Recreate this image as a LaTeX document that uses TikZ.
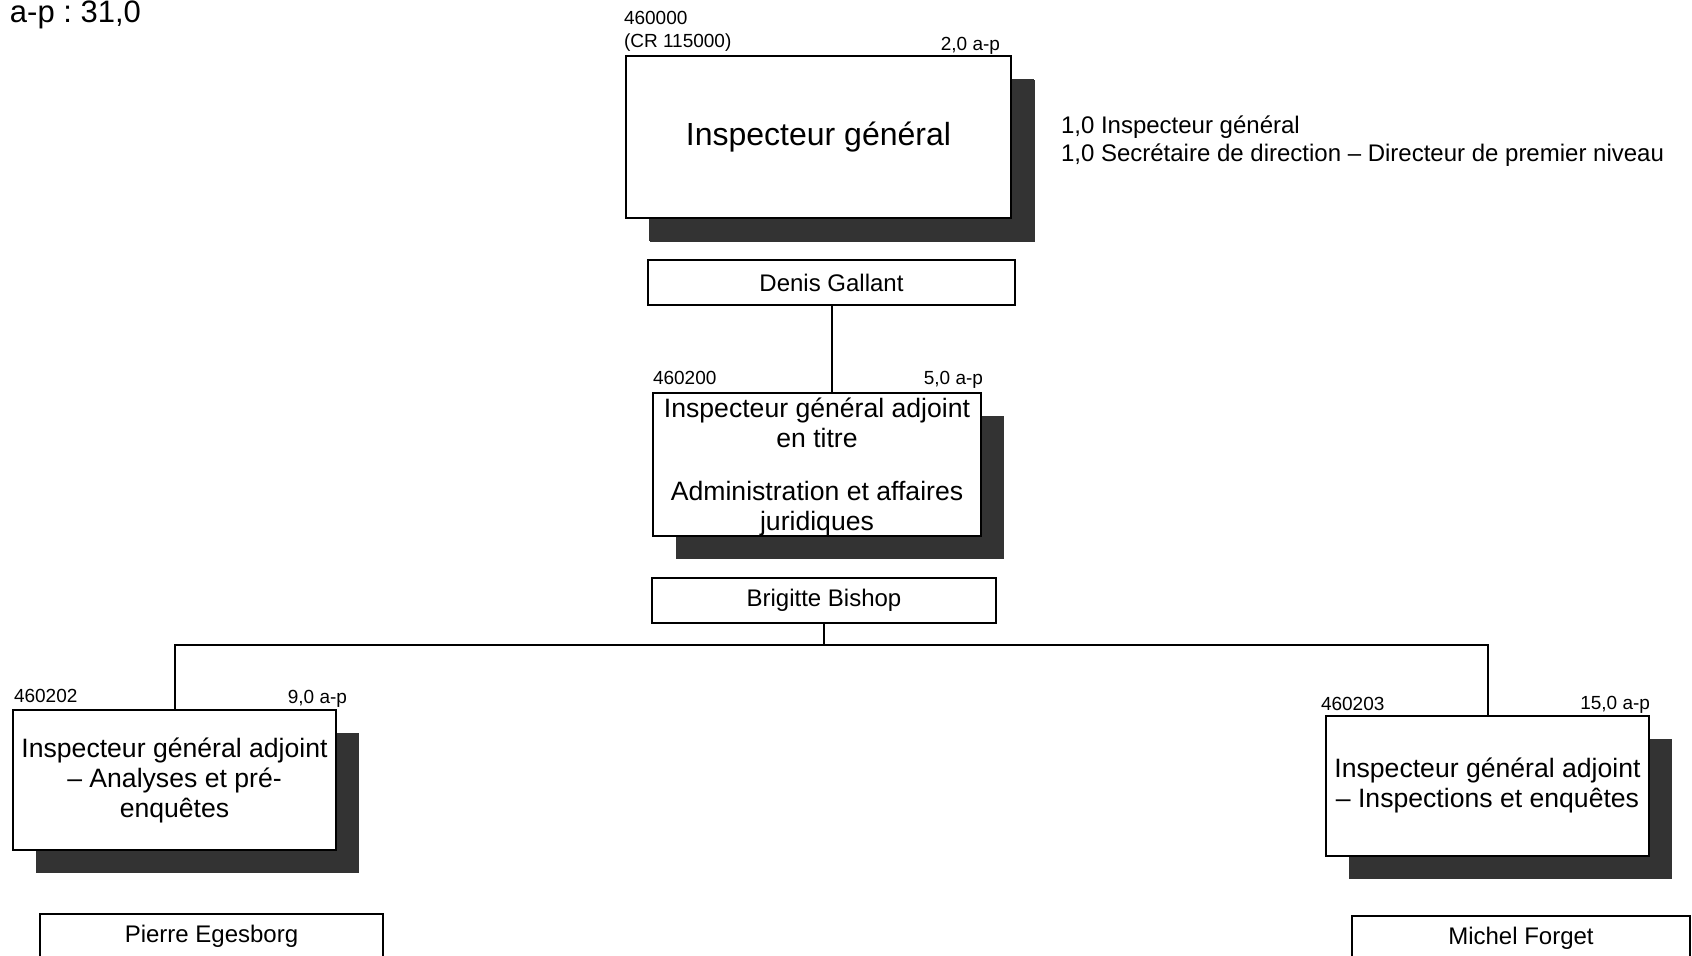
\documentclass[tikz,border=0pt]{standalone}
\usepackage{fontspec}
\setmainfont{Liberation Sans}
\usetikzlibrary{shadows}
\definecolor{shadowgray}{HTML}{333333}
\frenchspacing

\begin{document}
\begin{tikzpicture}[
	x=0.5pt, y=-0.5pt,
	line width=1pt,
	posbox/.style={
		draw, fill=white,
		align=center,
		inner sep=0pt,
		font=\fontsize{13.3}{15}\selectfont,
		drop shadow={shadow xshift=11.5pt, shadow yshift=-11.5pt, fill=shadowgray, opacity=1},
	},
	boxtext/.style={
		align=center,
		inner sep=0pt,
		font=\fontsize{13.3}{15}\selectfont,
	},
	namebox/.style={
		draw, fill=white,
		inner sep=0pt,
		minimum height=22.5pt,
		font=\fontsize{12}{14}\selectfont,
	},
	unitlabel/.style={
		align=left,
		inner sep=0pt,
		font=\fontsize{9.5}{11.5}\selectfont,
	}
]
\useasboundingbox (0,0) rectangle (1692,956);

\node[anchor=base west, inner sep=0pt, font=\fontsize{15.5}{18}\selectfont] (total) at (9,23) {a-p : 31,0};

% boxes
\node[posbox, minimum width=192.5pt, minimum height=81pt, font=\fontsize{16}{19}\selectfont,
	drop shadow={shadow xshift=12pt, shadow yshift=-12pt, fill=shadowgray, opacity=1}] (ig) at (818.5,137) {Inspecteur général};
\node[namebox, minimum width=183.5pt] (dg) at (831.5,282.5) {Denis Gallant};
\node[posbox, minimum width=164pt, minimum height=71.5pt,
	label={[boxtext, yshift=-1pt]center:{Inspecteur général adjoint\\en titre\\[11.5pt]Administration et affaires\\juridiques}}] (iga) at (817,464.5) {};
\node[namebox, minimum width=172pt] (bb) at (824,600.5) {Brigitte Bishop};
\node[posbox, minimum width=161.5pt, minimum height=70pt] (igaa) at (174.5,780) {Inspecteur général adjoint\\– Analyses et pré-\\enquêtes};
\node[posbox, minimum width=161.5pt, minimum height=70pt] (igai) at (1487.5,785.5) {Inspecteur général adjoint\\– Inspections et enquêtes};
\node[namebox, minimum width=171.5pt] (pe) at (211.5,936.5) {Pierre Egesborg};
\node[namebox, minimum width=169pt] (mf) at (1521,938.5) {Michel Forget};

% codes and a-p
\node[unitlabel, anchor=base west] (ig-code) at (623,48) {460000\\(CR 115000)};
\node[unitlabel, anchor=base east] (ig-ap) at (1001,51) {2,0 a-p};
\node[unitlabel, anchor=base west] (iga-code) at (652,385) {460200};
\node[unitlabel, anchor=base east] (iga-ap) at (984,385) {5,0 a-p};
\node[unitlabel, anchor=base west] (igaa-code) at (13,703) {460202};
\node[unitlabel, anchor=base east] (igaa-ap) at (348,704) {9,0 a-p};
\node[unitlabel, anchor=base west] (igai-code) at (1320,710) {460203};
\node[unitlabel, anchor=base east] (igai-ap) at (1651,709) {15,0 a-p};

\node[anchor=base west, align=left, inner sep=0pt, font=\fontsize{12}{14}\selectfont] (staff) at (1060,162)
	{1,0 Inspecteur général\\1,0 Secrétaire de direction – Directeur de premier niveau};

% connectors
\coordinate (bus) at (824,645);
\draw (dg.south) -- (dg.south |- iga.north);
\draw (bb.south) -- (bus);
\draw (igaa.north) |- (bus) -| (igai.north);

\end{tikzpicture}
\end{document}
